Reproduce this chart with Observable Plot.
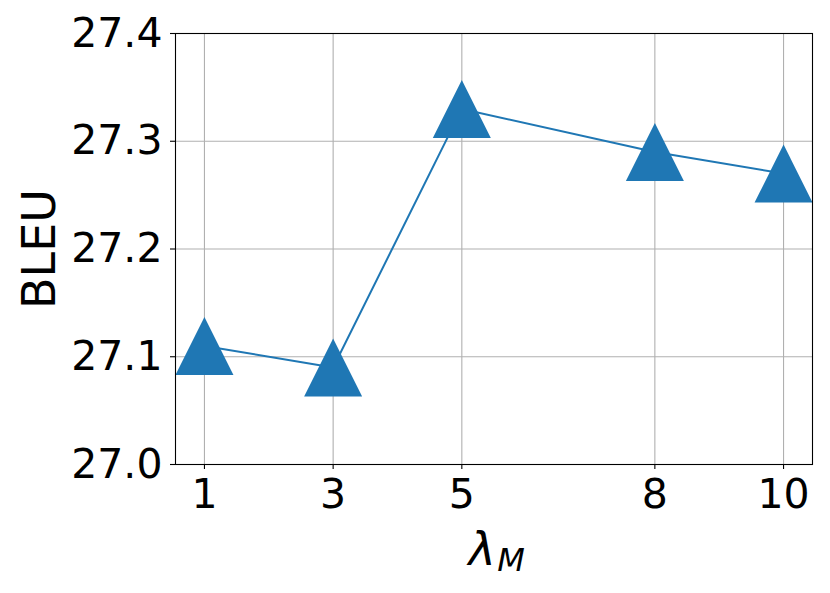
<!DOCTYPE html>
<html>
<head>
<meta charset="utf-8">
<script src="https://cdn.jsdelivr.net/npm/d3@7"></script>
<script src="https://cdn.jsdelivr.net/npm/@observablehq/plot@0.6"></script>
<style>
  html, body { margin: 0; padding: 0; background: #fff; }
</style>
</head>
<body>
<div id="chart"></div>
<script>
const lambdas = [1, 3, 5, 8, 10];
const bleu = [27.11, 27.09, 27.33, 27.29, 27.27];
const xTicks = [1, 3, 5, 8, 10];
const yTicks = [27.0, 27.1, 27.2, 27.3, 27.4];

const data = lambdas.map((x, i) => ({x, y: bleu[i]}));

const mplTriangle = {
  draw(context, size) {
    const r = Math.sqrt(size / Math.PI);
    context.moveTo(0, -r);
    context.lineTo(r, r);
    context.lineTo(-r, r);
    context.closePath();
  }
};

const color = "#1f77b4";
const font = "DejaVu Sans";

const chart = Plot.plot({
  width: 830,
  height: 593,
  marginLeft: 175,
  marginRight: 18,
  marginTop: 33,
  marginBottom: 129,
  style: {fontFamily: font, background: "#fff", color: "#000"},
  x: {domain: [0.55, 10.45], ticks: xTicks},
  y: {domain: [27.0, 27.4], ticks: yTicks},
  marks: [
    Plot.gridX(xTicks, {stroke: "#b0b0b0", strokeOpacity: 1, strokeWidth: 1.1}),
    Plot.gridY(yTicks, {stroke: "#b0b0b0", strokeOpacity: 1, strokeWidth: 1.1}),
    Plot.line(data, {x: "x", y: "y", stroke: color, strokeWidth: 2}),
    Plot.dot(data, {x: "x", y: "y", r: 29, symbol: mplTriangle, fill: color, stroke: "none", clip: true}),
    Plot.frame({stroke: "#000", strokeWidth: 1.1}),
    Plot.axisX(xTicks, {tickSize: 5, tickPadding: 9, fontSize: 41, label: null, strokeWidth: 1.1}),
    Plot.axisY(yTicks, {tickSize: 5, tickPadding: 8, fontSize: 41, label: null, tickFormat: d3.format(".1f"), strokeWidth: 1.1}),
    Plot.text(["BLEU"], {frameAnchor: "left", dx: -135, rotate: -90, fontSize: 46, textAnchor: "middle", lineAnchor: "middle", fill: "#000"}),
    Plot.text(["λ"], {frameAnchor: "bottom", dx: -12, dy: 100, fontSize: 46, fontStyle: "italic", textAnchor: "middle", lineAnchor: "bottom", fill: "#000"}),
    Plot.text(["M"], {frameAnchor: "bottom", dx: 17, dy: 106, fontSize: 32, fontStyle: "italic", textAnchor: "middle", lineAnchor: "bottom", fill: "#000"})
  ]
});
document.getElementById("chart").appendChild(chart);
</script>
</body>
</html>
